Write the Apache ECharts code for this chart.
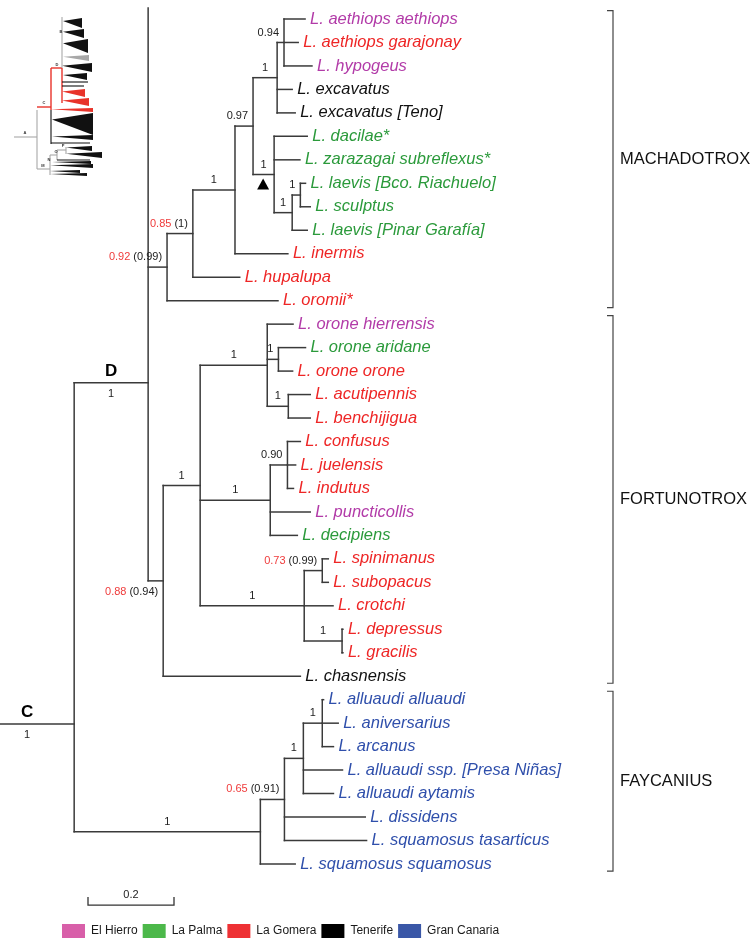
<!DOCTYPE html>
<html><head><meta charset="utf-8">
<script src="https://cdn.jsdelivr.net/npm/echarts@6/dist/echarts.min.js"></script>
<style>html,body{margin:0;padding:0;background:#fff}#c{width:756px;height:951px}</style>
</head><body><div id="c"></div>
<script>
// ---------------- DATA ----------------
const tipNames = [
  'L. aethiops aethiops','L. aethiops garajonay','L. hypogeus','L. excavatus','L. excavatus [Teno]',
  'L. dacilae*','L. zarazagai subreflexus*','L. laevis [Bco. Riachuelo]','L. sculptus','L. laevis [Pinar Garafía]',
  'L. inermis','L. hupalupa','L. oromii*',
  'L. orone hierrensis','L. orone aridane','L. orone orone','L. acutipennis','L. benchijigua',
  'L. confusus','L. juelensis','L. indutus','L. puncticollis','L. decipiens',
  'L. spinimanus','L. subopacus','L. crotchi','L. depressus','L. gracilis','L. chasnensis',
  'L. alluaudi alluaudi','L. aniversarius','L. arcanus','L. alluaudi ssp. [Presa Niñas]','L. alluaudi aytamis',
  'L. dissidens','L. squamosus tasarticus','L. squamosus squamosus'
];
// 0 El Hierro, 1 La Palma, 2 La Gomera, 3 Tenerife, 4 Gran Canaria
const tipIslands = [0,2,0,3,3, 1,1,1,1,1, 2,2,2, 0,1,2,2,2, 2,2,2,0,1, 2,2,2,2,2,3, 4,4,4,4,4, 4,4,4];
const islandNames = ['El Hierro','La Palma','La Gomera','Tenerife','Gran Canaria'];
const islandLegendColors = ['#d85fa9','#4cb84a','#ee3134','#000000','#3a57a7'];
const islandTextColors = ['#b23ba8','#2b9a3b','#ee2626','#111111','#2f4fab'];

// [node, parent, branch length]
const branches = [
  ['C', null, 0.219],
  ['D','C',0.172], ['G0','C',0.433],
  ['Dtop','D',0], ['M0','D',0.044], ['F0','D',0.035],
  ['M1','M0',0.060], ['L. oromii*','M0',0.258],
  ['M2','M1',0.098], ['L. hupalupa','M1',0.109],
  ['M3','M2',0.042], ['L. inermis','M2',0.123],
  ['M4','M3',0.056], ['M5','M3',0.049],
  ['M6','M4',0.016], ['L. excavatus','M4',0.035], ['L. excavatus [Teno]','M4',0.042],
  ['L. aethiops aethiops','M6',0.049], ['L. aethiops garajonay','M6',0.033], ['L. hypogeus','M6',0.065],
  ['L. dacilae*','M5',0.077], ['L. zarazagai subreflexus*','M5',0.060], ['M7','M5',0.042],
  ['M8','M7',0.019], ['L. laevis [Pinar Garafía]','M7',0.035],
  ['L. laevis [Bco. Riachuelo]','M8',0.012], ['L. sculptus','M8',0.023],
  ['F1','F0',0.086], ['L. chasnensis','F0',0.319],
  ['F2','F1',0.156], ['F3','F1',0.163], ['F4','F1',0.242],
  ['L. orone hierrensis','F2',0.060], ['F7','F2',0.026], ['F8','F2',0.049],
  ['L. orone aridane','F7',0.063], ['L. orone orone','F7',0.033],
  ['L. acutipennis','F8',0.051], ['L. benchijigua','F8',0.051],
  ['F9','F3',0.040], ['L. puncticollis','F3',0.093], ['L. decipiens','F3',0.063],
  ['L. confusus','F9',0.030], ['L. juelensis','F9',0.019], ['L. indutus','F9',0.014],
  ['F5','F4',0.042], ['L. crotchi','F4',0.067], ['F6','F4',0.088],
  ['L. spinimanus','F5',0.014], ['L. subopacus','F5',0.014],
  ['L. depressus','F6',0.002], ['L. gracilis','F6',0.002],
  ['L. squamosus squamosus','G0',0.081], ['G1','G0',0.056],
  ['G2','G1',0.044], ['L. dissidens','G1',0.188], ['L. squamosus tasarticus','G1',0.191],
  ['G3','G2',0.044], ['L. alluaudi ssp. [Presa Niñas]','G2',0.091], ['L. alluaudi aytamis','G2',0.070],
  ['L. alluaudi alluaudi','G3',0.003], ['L. aniversarius','G3',0.037], ['L. arcanus','G3',0.026]
];
// node vertical positions (in tip rows) that are not centred on their children
const nodeRowOverride = { D: 15.5, C: 30.04, Dtop: -0.47 };

// [node, red value, black value]
const supportValues = [
  ['M6','','0.94'], ['M4','','1'], ['M3','','0.97'], ['M5','','1'], ['M7','','1'], ['M8','','1'],
  ['M2','','1'], ['M1','0.85','(1)'], ['M0','0.92','(0.99)'],
  ['F2','','1'], ['F7','','1'], ['F8','','1'], ['F9','','0.90'], ['F3','','1'], ['F1','','1'],
  ['F5','0.73','(0.99)'], ['F4','','1'], ['F6','','1'], ['F0','0.88','(0.94)'],
  ['G3','','1'], ['G2','','1'], ['G1','0.65','(0.91)'], ['G0','','1'],
  ['D','','1'], ['C','','1']
];
const nodeLetters = [['D','D'], ['C','C']];
const markedNodes = ['M5'];
const clades = [['MACHADOTROX',0,12], ['FORTUNOTROX',13,28], ['FAYCANIUS',29,36]];
const scaleBarLength = 0.2;
const scaleBarLabel = '0.2';

// inset thumbnail (its own 0-110 x 0-185 frame); colour 0 grey, 1 red, 2 black
const insetLines = [
  [14,137,37,137,0],[37,110,37,169,0],[37,169,50,169,0],[50,155,50,175,0],[50,155,57,155,0],
  [57,150,57,160,0],[57,150,66,150,0],[66,147,66,154,0],[57,160,90,160,2],
  [37,107,51,107,1],[51,68,51,110,1],[51,68,62,68,1],[62,17,62,68,0],[62,68,62,103,1],
  [51,110,51,144,2],[62,82,88,82,2],[62,86,84,86,2],[51,143,90,143,2]
];
const insetTriangles = [
  [63,18,28,82,2],[63,29,38,84,2],[63,39,53,88,2],[63,55,61,89,0],[62,63,72,92,2],[63,73,80,87,2],
  [62,89,97,85,1],[62,98,106,89,1],[51,108,112,93,1],[52,113,135,93,2],[52,135,140,93,2],
  [66,146,151,92,2],[66,152,158,102,2],[52,161,164,91,2],[50,164,168,93,2],[50,170,173,80,2],[50,173,176,87,2]
];
const insetLetters = [['A',25,133],['B',61,32],['C',44,103],['D',57,65],['M',43,166],['N',49,160],['O',56,152],['P',63,146]];

// ---------------- LAYOUT ----------------
const W = 756, H = 951;
const PX_PER_UNIT = 430;
const X_MIN = 20 / PX_PER_UNIT;
const X_MAX = X_MIN + W / PX_PER_UNIT;
const GRID_TOP = 19, GRID_BOTTOM = 87;
const BRANCH_COLOR = '#3a3a3a';
const TIP_FONT = 'italic 16.5px "Liberation Sans", Arial, sans-serif';
const SUP_FONT = '11px "Liberation Sans", Arial, sans-serif';
const SUP_RED = '#ef3b3b', SUP_BLACK = '#222';
const BRACKET_X = 613, CLADE_LABEL_X = 620;
const SCALE_START = X_MIN + 88 / PX_PER_UNIT, SCALE_ROW = 37.75;

const measureCtx = document.createElement('canvas').getContext('2d');
function textW(t, font) { measureCtx.font = font; return measureCtx.measureText(t).width; }

// build tree
const nodes = {};
branches.forEach(([c, p, l]) => { nodes[c] = { name: c, parent: p, len: l, children: [] }; });
branches.forEach(([c, p]) => { if (p) nodes[p].children.push(c); });
const rootName = branches.find(b => b[1] === null)[0];
(function setX(n, px) { n.px = px; n.x = px + n.len; n.children.forEach(c => setX(nodes[c], n.x)); })(nodes[rootName], 0);
(function setY(n) {
  if (!n.children.length) {
    n.y = (n.name in nodeRowOverride) ? nodeRowOverride[n.name] : tipNames.indexOf(n.name);
    n.ymin = n.ymax = n.y;
  } else {
    n.children.forEach(c => setY(nodes[c]));
    const ys = n.children.map(c => nodes[c].y);
    n.ymin = Math.min(...ys); n.ymax = Math.max(...ys);
    n.y = (n.name in nodeRowOverride) ? nodeRowOverride[n.name] : (n.ymin + n.ymax) / 2;
  }
})(nodes[rootName]);
const nodeList = Object.values(nodes);

const lineStyle = { stroke: BRANCH_COLOR, lineWidth: 1.5, lineCap: 'square' };

function txt(x, y, text, font, fill, align, valign) {
  return { type: 'text', x: x, y: y, style: { text: text, font: font, fill: fill,
    align: align, verticalAlign: valign, textAlign: align, textVerticalAlign: valign } };
}

const series = [];
// branches
series.push({
  type: 'custom', xAxisIndex: 0, yAxisIndex: 0, silent: true, clip: false,
  data: nodeList.map(n => [n.x, n.y, n.px, n.ymin, n.ymax]),
  encode: { x: 0, y: 1 },
  renderItem: function (params, api) {
    const x = api.value(0), y = api.value(1), px = api.value(2), y0 = api.value(3), y1 = api.value(4);
    const a = api.coord([px, y]), b = api.coord([x, y]);
    const ch = [];
    if (b[0] - a[0] > 0.5) ch.push({ type: 'line', shape: { x1: a[0], y1: a[1], x2: b[0], y2: b[1] }, style: lineStyle });
    if (y1 > y0) {
      const c = api.coord([x, y0]), d = api.coord([x, y1]);
      ch.push({ type: 'line', shape: { x1: c[0], y1: c[1], x2: d[0], y2: d[1] }, style: lineStyle });
    }
    return { type: 'group', children: ch };
  }
});
// tip labels
series.push({
  type: 'custom', xAxisIndex: 0, yAxisIndex: 0, silent: true, clip: false,
  data: tipNames.map((t, i) => [nodes[t].x, nodes[t].y, i]),
  encode: { x: 0, y: 1 },
  renderItem: function (params, api) {
    const p = api.coord([api.value(0), api.value(1)]);
    const i = api.value(2);
    return txt(p[0] + 5, p[1], tipNames[i], TIP_FONT, islandTextColors[tipIslands[i]], 'left', 'middle');
  }
});
// support values, node letters, marker
const belowNodes = { F0: 1, D: 1, C: 1 };
series.push({
  type: 'custom', xAxisIndex: 0, yAxisIndex: 0, silent: true, clip: false,
  data: supportValues.map((s, i) => [nodes[s[0]].x, nodes[s[0]].y, nodes[s[0]].px, i]),
  encode: { x: 0, y: 1 },
  renderItem: function (params, api) {
    const i = api.value(3), s = supportValues[i];
    const b = api.coord([api.value(0), api.value(1)]), a = api.coord([api.value(2), api.value(1)]);
    const wr = s[1] ? textW(s[1], SUP_FONT) : 0, wk = textW(s[2], SUP_FONT);
    const gap = s[1] ? 3 : 0;
    const total = wr + gap + wk;
    const mid = (a[0] + b[0]) / 2;
    const right = Math.min(mid + total / 2, b[0] - 5);
    const y = belowNodes[s[0]] ? b[1] + 11 : b[1] - 10;
    const ch = [txt(right, y, s[2], SUP_FONT, SUP_BLACK, 'right', 'middle')];
    if (s[1]) ch.push(txt(right - wk - gap, y, s[1], SUP_FONT, SUP_RED, 'right', 'middle'));
    const letter = nodeLetters.find(l => l[0] === s[0]);
    if (letter) ch.push(txt(mid, b[1] - 12, letter[1], '900 17px "Liberation Sans", Arial, sans-serif', '#000', 'center', 'middle'));
    if (markedNodes.indexOf(s[0]) >= 0) {
      const cx = b[0] - 11, cy = b[1] + 10;
      ch.push({ type: 'polygon', shape: { points: [[cx, cy - 6], [cx - 6, cy + 5], [cx + 6, cy + 5]] }, style: { fill: '#000' } });
    }
    return { type: 'group', children: ch };
  }
});
// clade brackets
series.push({
  type: 'custom', xAxisIndex: 0, yAxisIndex: 0, silent: true, clip: false,
  data: clades.map((c, i) => [X_MIN, c[1], c[2], i]),
  encode: { x: 0, y: 1 },
  renderItem: function (params, api) {
    const i = api.value(3);
    const t = api.coord([X_MIN, api.value(1) - 0.36])[1], bt = api.coord([X_MIN, api.value(2) + 0.3])[1];
    const st = { stroke: '#444', lineWidth: 1.2 };
    return { type: 'group', children: [
      { type: 'polyline', shape: { points: [[BRACKET_X - 6, t], [BRACKET_X, t], [BRACKET_X, bt], [BRACKET_X - 6, bt]] }, style: Object.assign({ fill: null }, st) },
      txt(CLADE_LABEL_X, (t + bt) / 2, clades[i][0], '16.5px "Liberation Sans", Arial, sans-serif', '#111', 'left', 'middle')
    ] };
  }
});
// scale bar
series.push({
  type: 'custom', xAxisIndex: 0, yAxisIndex: 0, silent: true, clip: false,
  data: [[SCALE_START, SCALE_ROW, scaleBarLength]],
  encode: { x: 0, y: 1 },
  renderItem: function (params, api) {
    const a = api.coord([api.value(0), api.value(1)]), b = api.coord([api.value(0) + api.value(2), api.value(1)]);
    const st = { stroke: '#333', lineWidth: 1.3, fill: null };
    return { type: 'group', children: [
      { type: 'polyline', shape: { points: [[a[0], a[1] - 8], [a[0], a[1]], [b[0], b[1]], [b[0], b[1] - 8]] }, style: st },
      txt((a[0] + b[0]) / 2, a[1] - 10, scaleBarLabel, SUP_FONT, '#222', 'center', 'middle')
    ] };
  }
});
// inset thumbnail
const insetColors = ['#a8a8a8', '#e8332a', '#111'];
series.push({
  type: 'custom', xAxisIndex: 1, yAxisIndex: 1, silent: true, clip: false,
  data: insetTriangles.map((t, i) => [t[0], t[1], i]),
  encode: { x: 0, y: 1 },
  renderItem: function (params, api) {
    const t = insetTriangles[api.value(2)];
    const ya = t[1] + (t[2] - t[1]) * 0.3;
    const p1 = api.coord([t[0], ya]), p2 = api.coord([t[3], t[1]]), p3 = api.coord([t[3], t[2]]);
    return { type: 'polygon', shape: { points: [p1, p2, p3] }, style: { fill: insetColors[t[4]] } };
  }
});
series.push({
  type: 'custom', xAxisIndex: 1, yAxisIndex: 1, silent: true, clip: false,
  data: insetLines.map((l, i) => [l[0], l[1], i]),
  encode: { x: 0, y: 1 },
  renderItem: function (params, api) {
    const l = insetLines[api.value(2)];
    const a = api.coord([l[0], l[1]]), b = api.coord([l[2], l[3]]);
    return { type: 'line', shape: { x1: a[0], y1: a[1], x2: b[0], y2: b[1] }, style: { stroke: insetColors[l[4]], lineWidth: l[4] === 1 ? 1.4 : 1.1 } };
  }
});
series.push({
  type: 'custom', xAxisIndex: 1, yAxisIndex: 1, silent: true, clip: false,
  data: insetLetters.map((l, i) => [l[1], l[2], i]),
  encode: { x: 0, y: 1 },
  renderItem: function (params, api) {
    const l = insetLetters[api.value(2)];
    const p = api.coord([l[1], l[2]]);
    return txt(p[0], p[1], l[0], 'bold 4px "Liberation Sans", Arial, sans-serif', '#333', 'center', 'middle');
  }
});
// legend series (no marks)
islandNames.forEach((nm, i) => {
  series.push({ type: 'scatter', name: nm, data: [], xAxisIndex: 0, yAxisIndex: 0,
    itemStyle: { color: islandLegendColors[i], opacity: 1 } });
});

const chart = echarts.init(document.getElementById('c'), null, { renderer: 'canvas' });
chart.setOption({
  animation: false,
  backgroundColor: '#fff',
  grid: [
    { left: 0, right: 0, top: GRID_TOP, bottom: GRID_BOTTOM },
    { left: 0, top: 0, width: 110, height: 185 }
  ],
  xAxis: [
    { type: 'value', gridIndex: 0, min: X_MIN, max: X_MAX, show: false },
    { type: 'value', gridIndex: 1, min: 0, max: 110, show: false }
  ],
  yAxis: [
    { type: 'value', gridIndex: 0, min: 0, max: tipNames.length - 1, inverse: true, show: false },
    { type: 'value', gridIndex: 1, min: 0, max: 185, inverse: true, show: false }
  ],
  legend: {
    data: islandNames, left: 62, top: 924, icon: 'rect', itemWidth: 23, itemHeight: 14, itemGap: 5,
    selectedMode: false, padding: 0,
    itemStyle: { opacity: 1 },
    textStyle: { fontFamily: '"Liberation Sans", Arial, sans-serif', fontSize: 12, color: '#1a1a1a', padding: [0, 0, 0, 1] }
  },
  series: series
});
</script></body></html>
